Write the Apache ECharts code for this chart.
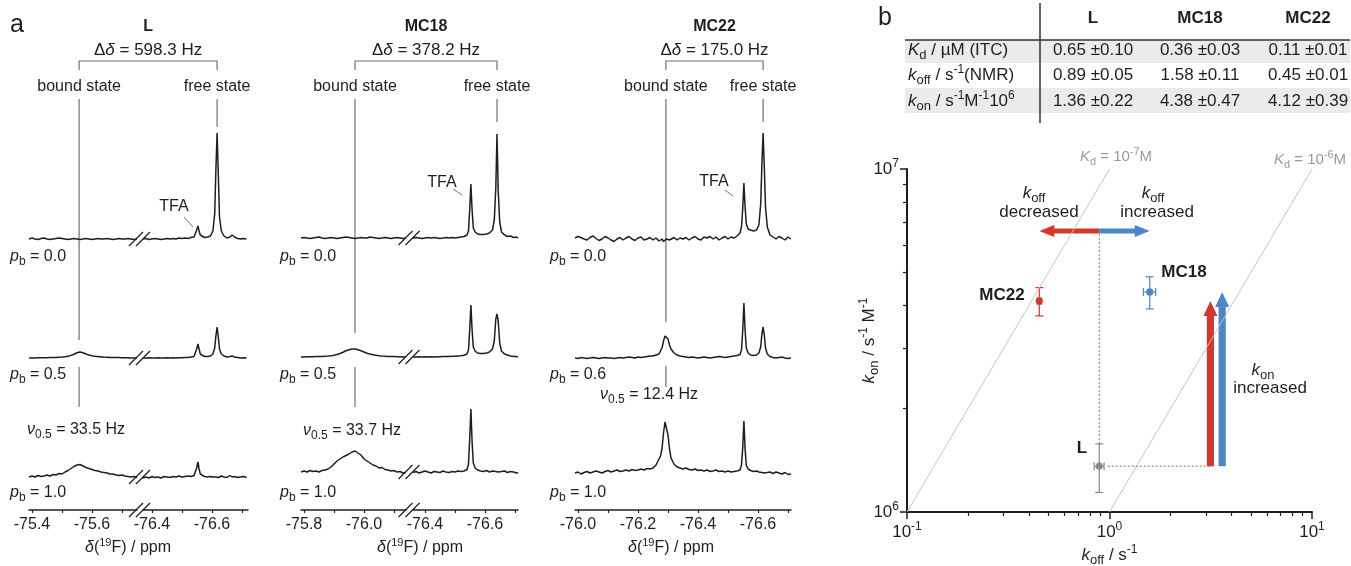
<!DOCTYPE html>
<html>
<head>
<meta charset="utf-8">
<title>19F NMR titration and kinetic map</title>
<script src="https://cdn.jsdelivr.net/npm/echarts@6.0.0/dist/echarts.min.js"></script>
<style>
  html, body { margin: 0; padding: 0; background: #fff; }
  #chart { width: 1351px; height: 566px; }
</style>
</head>
<body>
<div id="chart"></div>
<script>
// ---------- panel a : 19F spectra, intensity (baseline = 0) ----------
var lLeftPpm = [-75.39, -75.40, -75.41, -75.42, -75.43, -75.44, -75.45, -75.46, -75.47, -75.48, -75.49, -75.50, -75.51, -75.52, -75.53, -75.54, -75.55, -75.56, -75.57, -75.58, -75.59, -75.60, -75.61, -75.62, -75.63, -75.64, -75.65, -75.66, -75.67, -75.68, -75.69, -75.70, -75.71, -75.72, -75.73, -75.74, -75.75];
var lLeftP00 = [0, 1, 0, -0.5, 0.5, 1, 0, -0.5, 0, 0.5, 1, 0.5, 0, -0.5, 0, 0.5, 0, -0.5, 0, 0.5, 0, -0.5, 0, 0.5, 0, 0, 0.5, 0, -0.5, 0, 0.5, 0, 0, 0.5, 0, -0.5, 0];
var lLeftP05 = [0, 0, 0, 0.2, 0.2, 0.3, 0.3, 0.4, 0.5, 0.6, 0.8, 1, 1.3, 1.8, 2.6, 3.8, 5.2, 6, 5.3, 4, 2.9, 2.2, 1.7, 1.4, 1.1, 0.9, 0.8, 0.6, 0.5, 0.4, 0.4, 0.3, 0.2, 0.2, 0.1, 0.1, 0];
var lLeftP10 = [0, 1, 0, 1.5, 0.5, 1, 2, 1, 2.5, 2, 3.5, 3, 5, 6.5, 8.5, 10.5, 12, 12.5, 11, 9.5, 8.5, 7.5, 6.5, 6, 5, 4.5, 4, 3, 3, 2, 1.5, 2, 1, 0.5, 0, 0.5, -0.5];

var lRightPpm = [-76.37, -76.38, -76.39, -76.40, -76.41, -76.42, -76.43, -76.44, -76.45, -76.46, -76.47, -76.48, -76.49, -76.50, -76.51, -76.52, -76.53, -76.54, -76.545, -76.549, -76.553, -76.557, -76.561, -76.567, -76.575, -76.585, -76.595, -76.603, -76.609, -76.613, -76.617, -76.621, -76.625, -76.631, -76.64, -76.65, -76.66, -76.667, -76.675, -76.685, -76.695, -76.705, -76.715];
var lRightP00 = [0, 0.5, -0.5, 0, 0.5, 0, -0.5, 0, 0.5, 0, 0.5, 0, 1, 0.5, 1, 0.5, 1.5, 2, 4, 9, 13, 8, 4, 2, 1.5, 2, 3, 8, 25, 70, 106, 65, 22, 8, 3, 1, 2, 4, 2, 0.5, 0, 0.5, 0];
var lRightP05 = [0, 0, 0.3, 0, 0, 0.3, 0, 0, 0.3, 0, 0.3, 0, 0.3, 0.3, 0.5, 0.5, 1, 1.5, 3, 9, 14, 9, 4, 2, 1.5, 1.5, 2, 4, 10, 22, 31, 21, 9, 4, 2, 1, 1.5, 2, 1, 0.5, 0, 0.3, 0];
var lRightP10 = [-1, 0, -1, 0.5, -0.5, 0, -1, 0.5, 0, -0.5, 0.5, 0, 1, 0, 0.5, 1, 0.5, 1.5, 3, 9, 15, 8, 3, 1, 0.5, 0, 0.5, 0, 1, 0, 0.5, -0.5, 0, 1, 0, -0.5, 1.5, 0, 0.5, -0.5, 0, 0.5, -0.5];

var mc18LeftPpm = [-75.79, -75.80, -75.81, -75.82, -75.83, -75.84, -75.85, -75.86, -75.87, -75.88, -75.89, -75.90, -75.91, -75.92, -75.93, -75.94, -75.95, -75.96, -75.97, -75.98, -75.99, -76.00, -76.01, -76.02, -76.03, -76.04, -76.05, -76.06, -76.07, -76.08, -76.09, -76.10, -76.11, -76.12, -76.13, -76.14];
var mc18LeftP00 = [0, 0.5, 0, -0.5, 0, 0.5, 1, 0, -0.5, 0, 0.5, 0, -0.5, 0, 0.5, 1, 0.5, 0, -0.5, 0, 0.5, 0, 0, 1, 0.5, 0, -0.5, 0, 0.5, 0, -0.5, 0, 0.5, 0, -0.5, 0];
var mc18LeftP05 = [0, 0, 0.2, 0.2, 0.3, 0.4, 0.5, 0.6, 0.8, 1, 1.3, 1.8, 2.5, 3.5, 4.8, 6.2, 7.3, 8, 8, 7.3, 6.2, 5, 3.8, 2.9, 2.2, 1.7, 1.3, 1, 0.8, 0.6, 0.5, 0.4, 0.3, 0.2, 0.1, 0];
var mc18LeftP10 = [0, 1, 0, 1.5, 0.5, 1, 0, 1.5, 2, 3, 5, 8, 11, 13, 15, 16.5, 18, 20, 21, 19, 17, 13, 11, 9, 7, 6, 4, 4.5, 2.5, 2, 1, 1.5, 0, 0.5, -1, -0.5];

var mc18RightPpm = [-76.36, -76.37, -76.38, -76.39, -76.40, -76.41, -76.42, -76.43, -76.44, -76.45, -76.46, -76.47, -76.48, -76.49, -76.50, -76.51, -76.52, -76.53, -76.54, -76.545, -76.549, -76.553, -76.557, -76.561, -76.567, -76.575, -76.585, -76.595, -76.605, -76.615, -76.625, -76.631, -76.636, -76.64, -76.644, -76.649, -76.655, -76.665, -76.675, -76.685, -76.695, -76.705, -76.71];
var mc18RightP00 = [0, 0.5, 0, -0.5, 0, 0.5, 0, 0.5, 0, -0.5, 0, 0.5, 0, 0.5, 0, 0.5, 1, 1.5, 3, 7, 28, 54, 28, 10, 6, 4, 3.5, 3.5, 4, 5, 8, 18, 50, 104, 48, 16, 6, 3, 1.5, 2, 0.5, 1, 0];
var mc18RightP05 = [0, 0, 0.3, 0, 0.3, 0, 0.3, 0, 0.3, 0.3, 0.5, 0.5, 0.5, 0.7, 0.8, 1, 1.2, 1.8, 3, 7, 27, 52, 27, 10, 6, 4, 3.5, 3.5, 4, 5, 8, 16, 38, 43, 36, 14, 6, 3, 2, 1, 0.5, 0.5, 0];
var mc18RightP10 = [-0.5, 0.5, -1, 0, 1, 0, -1, 0.5, 0, -0.5, 1, 0, -0.5, 0.5, 0, 1, 0.5, 1, 2.5, 8, 33, 63, 30, 9, 4, 2, 1, 0.5, 1.5, 0, 1, 0, 0.5, 1, 0, -0.5, 0.5, 1, -0.5, 0.5, 0, -1, -0.5];

var mc22Ppm = [-75.99, -76.00, -76.01, -76.02, -76.03, -76.04, -76.05, -76.06, -76.07, -76.08, -76.09, -76.10, -76.11, -76.12, -76.13, -76.14, -76.15, -76.16, -76.17, -76.18, -76.19, -76.20, -76.21, -76.22, -76.23, -76.24, -76.25,
  -76.26, -76.27, -76.275, -76.28, -76.285, -76.29, -76.295, -76.30, -76.305, -76.31, -76.32, -76.33, -76.34,
  -76.35, -76.36, -76.37, -76.38, -76.39, -76.40, -76.41, -76.42, -76.43, -76.44, -76.45, -76.46, -76.47, -76.48, -76.49, -76.50, -76.51, -76.52, -76.53,
  -76.54, -76.545, -76.549, -76.553, -76.557, -76.561, -76.567, -76.575, -76.585, -76.595, -76.603, -76.609, -76.613, -76.617, -76.621, -76.625, -76.631, -76.64,
  -76.65, -76.66, -76.67, -76.68, -76.69, -76.70, -76.71];
var mc22P00 = [1, 2.5, 1.5, 0, -1, 1.5, 3, 0.5, -1.5, 0, 2.5, 1, -1, -2.5, 0, 1.5, -1, 1, 2.5, 0, -1.5, 1, 2, -1, 0, 1.5, -1,
  1, -2, -1, 0, -2.5, -1.5, 0, 1, -1, 0, 1.5, -1, 1,
  0, 1.5, -1, 1, 2.5, 0, -1, 2, 1, 2.5, 0, 2, -1, 1, 2.5, 0, 2, 1, 3,
  6, 12, 30, 56, 32, 15, 10, 9, 8, 9, 14, 35, 75, 106, 72, 32, 12, 4,
  2, 0, 2.5, 1, -1, 2, 0];
var mc22P06 = [0, -0.5, 0.5, 0, -0.5, 0, 0.5, 0, -0.5, 0, 0.5, 0, 0, -0.5, 0, 0.5, 0, 0.5, 1, 0.5, 0, 1, 0.5, 1, 1.5, 2, 2,
  3, 4, 6, 10, 17, 22, 23, 19, 13, 9, 5, 3, 2,
  1.5, 1, 0.5, 1, 0.5, 0, 0.5, 1, 0.5, 0, 0.5, 1, 1.5, 1, 0.5, 1, 1.5, 2, 2.5,
  3.5, 8, 27, 55, 28, 10, 5, 3, 2.5, 3, 5, 11, 24, 31, 23, 10, 4, 1.5,
  0.5, 0, 0.5, 1, 0, -0.5, 0];
var mc22P10 = [0, 1, -1, 0.5, 1.5, 0, 1, 2, 1, 0, 1.5, 2.5, 1, 2, 3, 1.5, 2, 3, 2, 3.5, 2.5, 3, 4, 3, 4.5, 4, 5,
  8, 14, 17, 24, 40, 51, 50, 38, 24, 15, 9, 6, 5,
  4, 5, 3.5, 3, 4, 2.5, 3, 2, 3, 1.5, 2, 3, 1.5, 2, 1, 2, 1, 1.5, 2,
  3, 8, 25, 52, 24, 8, 4, 2.5, 1.5, 2, 1, 2, 0.5, 1, 0, 1.5, 0.5, 1,
  -0.5, 1, 0, -1, 0.5, -1.5, -1];

var complexes = ['L', 'MC18', 'MC22'];
var deltaHz = ['598.3', '378.2', '175.0'];
var nuHalf = ['33.5', '33.7', '12.4'];
var pbL = ['0.0', '0.5', '1.0'];
var pbMC18 = ['0.0', '0.5', '1.0'];
var pbMC22 = ['0.0', '0.6', '1.0'];
var boundPpm = [-75.557, -75.97, -76.293];
var freePpm = [-76.617, -76.64, -76.617];

// ---------- panel b : table + kinetic map ----------
var kdITC = [0.65, 0.36, 0.11];
var kdITCErr = [0.10, 0.03, 0.01];
var koffNMR = [0.89, 1.58, 0.45];
var koffNMRErr = [0.05, 0.11, 0.01];
var konCalc = [1.36, 4.38, 4.12];      // x 10^6
var konCalcErr = [0.22, 0.47, 0.39];   // x 10^6
var kdIsolines = [1e-7, 1e-6];
var koffArrowKon = 6.6e6;
var konArrowKoff = [3.15, 3.6];
var xMinorTicks = [0.2, 0.3, 0.4, 0.5, 0.6, 0.7, 0.8, 0.9, 2, 3, 4, 5, 6, 7, 8, 9];
var yMinorTicks = [2e6, 3e6, 4e6, 5e6, 6e6, 7e6, 8e6, 9e6];

var FONT = '"Liberation Sans", Arial, sans-serif';
var INK = '#1e1e1e';
var GUIDE = '#707070';
var RED = '#d2382c', BLUE = '#4b87c8', GREY = '#8a8a8a';
var pointColors = [GREY, BLUE, RED];

function gRich(size, color) {
  return {
    n: {fontFamily: FONT, fontSize: size, lineHeight: size + 6, fill: color},
    i: {fontFamily: FONT, fontSize: size, lineHeight: size + 6, fontStyle: 'italic', fill: color},
    b: {fontFamily: FONT, fontSize: size, lineHeight: size + 6, fontWeight: 'bold', fill: color},
    sub: {fontFamily: FONT, fontSize: Math.round(size * 0.74), fill: color, verticalAlign: 'bottom'},
    sup: {fontFamily: FONT, fontSize: Math.round(size * 0.7), fill: color, verticalAlign: 'top'}
  };
}
function eRich(size, color) {
  return {
    n: {fontFamily: FONT, fontSize: size, lineHeight: size + 6, color: color},
    i: {fontFamily: FONT, fontSize: size, lineHeight: size + 6, fontStyle: 'italic', color: color},
    sub: {fontFamily: FONT, fontSize: Math.round(size * 0.74), color: color, verticalAlign: 'bottom'},
    sup: {fontFamily: FONT, fontSize: Math.round(size * 0.7), color: color, verticalAlign: 'top'}
  };
}
function txt(x, y, text, rich, align) {
  return {type: 'text', x: x, y: y, silent: true,
    style: {text: text, rich: rich, fontFamily: FONT, fontSize: 16, fill: INK, align: align || 'center', verticalAlign: 'middle'}};
}
function seg(x1, y1, x2, y2, color, w) {
  return {type: 'line', silent: true, shape: {x1: x1, y1: y1, x2: x2, y2: y2}, style: {stroke: color, lineWidth: w}};
}

var panels = [
  {bases: [239, 358, 477], pb: pbL,
   segs: [
     {left: 29, right: 137, min: -75.75, max: -75.39, ticks: [-75.4, -75.5, -75.6, -75.7], labels: [-75.4, -75.6], ppm: lLeftPpm, rows: [lLeftP00, lLeftP05, lLeftP10]},
     {left: 143, right: 248, min: -76.72, max: -76.37, ticks: [-76.4, -76.5, -76.6, -76.7], labels: [-76.4, -76.6], ppm: lRightPpm, rows: [lRightP00, lRightP05, lRightP10]}
   ],
   boundEnd: 340, boundLow: [367, 407], freeEnd: 127, tfa: [174, 207, 184, 217, 193, 227], pbX: 10, nu: [27, 430], nameX: 128},
  {bases: [238, 357, 472], pb: pbMC18,
   segs: [
     {left: 301, right: 406, min: -76.14, max: -75.79, ticks: [-75.8, -75.9, -76.0, -76.1], labels: [-75.8, -76.0], ppm: mc18LeftPpm, rows: [mc18LeftP00, mc18LeftP05, mc18LeftP10]},
     {left: 413, right: 518, min: -76.71, max: -76.36, ticks: [-76.4, -76.5, -76.6, -76.7], labels: [-76.4, -76.6], ppm: mc18RightPpm, rows: [mc18RightP00, mc18RightP05, mc18RightP10]}
   ],
   boundEnd: 333, boundLow: [367, 407], freeEnd: 122, tfa: [442, 183, 453, 189, 462, 195], pbX: 280, nu: [303, 431], nameX: 420},
  {bases: [239, 358, 473], pb: pbMC22,
   segs: [
     {left: 575, right: 791, min: -76.71, max: -75.99, ticks: [-76.0, -76.1, -76.2, -76.3, -76.4, -76.5, -76.6, -76.7], labels: [-76.0, -76.2, -76.4, -76.6], ppm: mc22Ppm, rows: [mc22P00, mc22P06, mc22P10]}
   ],
   boundEnd: 322, boundLow: [366, 387], freeEnd: 122, tfa: [714, 182, 725, 190, 733, 196], pbX: 550, nu: [600, 395], nameX: 671}
];

var AXIS_Y = 510;
var grids = [], xAxes = [], yAxes = [], series = [];

panels.forEach(function (p) {
  p.segs.forEach(function (s) {
    s.axisIdx = [];
    for (var r = 0; r < 3; r++) {
      var base = p.bases[r];
      var top = base - 112;
      var bottom = r === 2 ? AXIS_Y : base + 6;
      var gi = grids.length;
      grids.push({left: s.left, top: top, width: s.right - s.left, height: bottom - top, outerBoundsMode: 'none'});
      xAxes.push({
        gridIndex: gi, type: 'value', inverse: true, min: s.min, max: s.max, show: r === 2,
        axisLine: {show: true, onZero: false, lineStyle: {color: INK, width: 1.5}},
        axisTick: {show: true, customValues: s.ticks, length: 3, lineStyle: {color: INK, width: 1.2}},
        axisLabel: {customValues: s.labels, margin: 7, fontFamily: FONT, fontSize: 16, color: INK,
          formatter: function (v) { return v.toFixed(1); }},
        splitLine: {show: false}
      });
      yAxes.push({gridIndex: gi, type: 'value', show: false, min: base - bottom, max: 112});
      var rowVals = s.rows[r];
      series.push({
        type: 'line', xAxisIndex: gi, yAxisIndex: gi, symbol: 'none', silent: true,
        data: s.ppm.map(function (v, k) { return [v, rowVals[k]]; }),
        lineStyle: {color: INK, width: 1.5}
      });
      s.axisIdx.push(gi);
    }
  });
});

// panel b grid
var gb = grids.length;
grids.push({left: 907, top: 169, width: 405, height: 343, outerBoundsMode: 'none'});
var bx = xAxes.length;
var logLabel = function (v) { return '{n|10}{sup|' + Math.round(Math.log10(v)) + '}'; };
xAxes.push({
  gridIndex: gb, type: 'log', logBase: 10, min: 0.1, max: 10, position: 'bottom',
  axisLine: {show: true, onZero: false, lineStyle: {color: INK, width: 2}},
  axisTick: {show: true, length: 7, lineStyle: {color: INK, width: 1.5}},
  axisLabel: {margin: 9, formatter: logLabel, fontFamily: FONT, fontSize: 17, color: INK, rich: eRich(17, INK)},
  splitLine: {show: false},
  name: '{i|k}{sub|off}{n| / s}{sup|-1}', nameLocation: 'middle', nameGap: 32, nameMoveOverlap: false,
  nameTextStyle: {fontFamily: FONT, fontSize: 17, color: INK, rich: eRich(17, INK)}
}, {
  gridIndex: gb, type: 'log', logBase: 10, min: 0.1, max: 10, position: 'bottom',
  axisLine: {show: false, onZero: false}, axisLabel: {show: false}, splitLine: {show: false},
  axisTick: {show: true, customValues: xMinorTicks, length: 4, lineStyle: {color: INK, width: 1.2}}
});
var by = yAxes.length;
yAxes.push({
  gridIndex: gb, type: 'log', logBase: 10, min: 1e6, max: 1e7, position: 'left',
  axisLine: {show: true, onZero: false, lineStyle: {color: INK, width: 2}},
  axisTick: {show: true, length: 7, lineStyle: {color: INK, width: 1.5}},
  axisLabel: {margin: 8, formatter: logLabel, fontFamily: FONT, fontSize: 17, color: INK, rich: eRich(17, INK)},
  splitLine: {show: false},
  name: '{i|k}{sub|on}{n| / s}{sup|-1}{n| M}{sup|-1}', nameLocation: 'middle', nameRotate: 90, nameGap: 26,
  nameMoveOverlap: false,
  nameTextStyle: {fontFamily: FONT, fontSize: 17, color: INK, rich: eRich(17, INK)}
}, {
  gridIndex: gb, type: 'log', logBase: 10, min: 1e6, max: 1e7, position: 'left',
  axisLine: {show: false, onZero: false}, axisLabel: {show: false}, splitLine: {show: false},
  axisTick: {show: true, customValues: yMinorTicks, length: 4, lineStyle: {color: INK, width: 1.2}}
});

// Kd isolines: kon = koff / Kd
kdIsolines.forEach(function (kd) {
  series.push({type: 'line', xAxisIndex: bx, yAxisIndex: by, symbol: 'none', silent: true,
    data: [[kd * 1e6, 1e6], [kd * 1e7, 1e7]], lineStyle: {color: '#c6c6c6', width: 1}});
});
// dotted guides from L
series.push({type: 'line', xAxisIndex: bx, yAxisIndex: by, symbol: 'none', silent: true,
  data: [[koffNMR[0], (konCalc[0] + konCalcErr[0]) * 1e6], [koffNMR[0], koffArrowKon]],
  lineStyle: {color: '#777', width: 1, type: [2, 2]}});
series.push({type: 'line', xAxisIndex: bx, yAxisIndex: by, symbol: 'none', silent: true,
  data: [[koffNMR[0] + koffNMRErr[0] + 0.04, konCalc[0] * 1e6], [konArrowKoff[0], konCalc[0] * 1e6]],
  lineStyle: {color: '#777', width: 1, type: [2, 2]}});

// arrows
var arrowData = [
  [koffNMR[0], koffArrowKon, koffNMR[2], koffArrowKon],
  [koffNMR[0], koffArrowKon, koffNMR[1], koffArrowKon],
  [konArrowKoff[0], konCalc[0] * 1e6, konArrowKoff[0], konCalc[2] * 1e6],
  [konArrowKoff[1], konCalc[0] * 1e6, konArrowKoff[1], konCalc[1] * 1e6]
];
var arrowLook = [
  {color: RED, half: 2.5, headLen: 15, headHalf: 6},
  {color: BLUE, half: 2.5, headLen: 15, headHalf: 6},
  {color: RED, half: 3.6, headLen: 15, headHalf: 7},
  {color: BLUE, half: 3.6, headLen: 15, headHalf: 7}
];
series.push({
  type: 'custom', xAxisIndex: bx, yAxisIndex: by, silent: true, clip: false, data: arrowData,
  renderItem: function (params, api) {
    var a = api.coord([api.value(0), api.value(1)]);
    var b = api.coord([api.value(2), api.value(3)]);
    var st = arrowLook[params.dataIndex];
    var dx = b[0] - a[0], dy = b[1] - a[1], len = Math.sqrt(dx * dx + dy * dy);
    var ux = dx / len, uy = dy / len, nx = -uy, ny = ux;
    var hx = b[0] - ux * st.headLen, hy = b[1] - uy * st.headLen;
    var pts = [
      [a[0] + nx * st.half, a[1] + ny * st.half],
      [hx + nx * st.half, hy + ny * st.half],
      [hx + nx * st.headHalf, hy + ny * st.headHalf],
      [b[0], b[1]],
      [hx - nx * st.headHalf, hy - ny * st.headHalf],
      [hx - nx * st.half, hy - ny * st.half],
      [a[0] - nx * st.half, a[1] - ny * st.half]
    ];
    return {type: 'polygon', shape: {points: pts}, style: {fill: st.color}};
  }
});

// points with error bars
series.push({
  type: 'custom', xAxisIndex: bx, yAxisIndex: by, silent: true, clip: false,
  data: complexes.map(function (c, i) {
    return [koffNMR[i], konCalc[i] * 1e6, koffNMRErr[i], konCalcErr[i] * 1e6];
  }),
  renderItem: function (params, api) {
    var x = api.value(0), y = api.value(1), ex = api.value(2), ey = api.value(3);
    var c = api.coord([x, y]);
    var l = api.coord([x - ex, y]), r = api.coord([x + ex, y]);
    var t = api.coord([x, y + ey]), b = api.coord([x, y - ey]);
    var col = pointColors[params.dataIndex];
    var st = {stroke: col, lineWidth: 1.2};
    var cap = 4;
    return {type: 'group', children: [
      {type: 'line', shape: {x1: c[0], y1: t[1], x2: c[0], y2: b[1]}, style: st},
      {type: 'line', shape: {x1: c[0] - cap, y1: t[1], x2: c[0] + cap, y2: t[1]}, style: st},
      {type: 'line', shape: {x1: c[0] - cap, y1: b[1], x2: c[0] + cap, y2: b[1]}, style: st},
      {type: 'line', shape: {x1: l[0], y1: c[1], x2: r[0], y2: c[1]}, style: st},
      {type: 'line', shape: {x1: l[0], y1: c[1] - cap, x2: l[0], y2: c[1] + cap}, style: st},
      {type: 'line', shape: {x1: r[0], y1: c[1] - cap, x2: r[0], y2: c[1] + cap}, style: st},
      {type: 'circle', shape: {cx: c[0], cy: c[1], r: 3.6}, style: {fill: col}}
    ]};
  }
});

var chart = echarts.init(document.getElementById('chart'));
chart.setOption({animation: false, grid: grids, xAxis: xAxes, yAxis: yAxes, series: series});

// ---------- annotations ----------
var g = [];
var ra = gRich(16, INK);
var rb = gRich(17, INK);
g.push(txt(17, 25, '{n|a}', gRich(25, INK)));
var pbY = [257, 375, 493];
panels.forEach(function (p, pi) {
  var first = p.segs[0], last = p.segs[p.segs.length - 1];
  var xb = chart.convertToPixel({xAxisIndex: first.axisIdx[0]}, boundPpm[pi]);
  var xf = chart.convertToPixel({xAxisIndex: last.axisIdx[0]}, freePpm[pi]);
  var cx = (xb + xf) / 2;
  g.push(txt(cx, 27, '{b|' + complexes[pi] + '}', ra));
  g.push(txt(cx, 50, '{n|Δ}{i|δ}{n| = ' + deltaHz[pi] + ' Hz}', gRich(17, INK)));
  g.push({type: 'polyline', silent: true, shape: {points: [[xb, 70], [xb, 61], [xf, 61], [xf, 70]]},
    style: {stroke: GUIDE, lineWidth: 1.2, fill: 'none'}});
  g.push(txt(xb, 87, '{n|bound state}', ra));
  g.push(txt(xf, 87, '{n|free state}', ra));
  g.push(seg(xb, 99, xb, p.boundEnd, GUIDE, 1.2));
  g.push(seg(xb, p.boundLow[0], xb, p.boundLow[1], GUIDE, 1.2));
  g.push(seg(xf, 99, xf, p.freeEnd, GUIDE, 1.2));
  g.push(txt(p.tfa[0], p.tfa[1], '{n|TFA}', ra));
  g.push(seg(p.tfa[2], p.tfa[3], p.tfa[4], p.tfa[5], GUIDE, 1));
  for (var r = 0; r < 3; r++) {
    g.push(txt(p.pbX, pbY[r], '{i|p}{sub|b}{n| = ' + p.pb[r] + '}', ra, 'left'));
  }
  g.push(txt(p.nu[0], p.nu[1], '{i|ν}{sub|0.5}{n| = ' + nuHalf[pi] + ' Hz}', ra, 'left'));
  g.push(txt(p.nameX, 548, '{i|δ}{n|(}{sup|19}{n|F) / ppm}', ra));
  if (p.segs.length > 1) {
    var bk = (first.right + last.left) / 2;
    p.bases.concat([AXIS_Y]).forEach(function (y) {
      for (var k = 0; k < 2; k++) g.push(seg(bk - 11 + 7 * k, y + 7, bk + 3 + 7 * k, y - 7, INK, 1.3));
    });
  }
});

// table
g.push(txt(885, 18, '{n|b}', gRich(25, INK)));
g.push({type: 'rect', silent: true, shape: {x: 905, y: 40, width: 445, height: 23}, style: {fill: '#ebebeb'}});
g.push({type: 'rect', silent: true, shape: {x: 905, y: 88, width: 445, height: 25}, style: {fill: '#ebebeb'}});
g.push(seg(905, 40, 1350, 40, '#333', 1.5));
g.push(seg(1040, 3, 1040, 123, '#333', 1.5));
var colX = [1093, 1200, 1308];
complexes.forEach(function (c, i) { g.push(txt(colX[i], 18, '{b|' + c + '}', rb)); });
var rowY = [50, 75, 101];
var rowLabels = ['{i|K}{sub|d}{n| / µM (ITC)}', '{i|k}{sub|off}{n| / s}{sup|-1}{n|(NMR)}',
  '{i|k}{sub|on}{n| / s}{sup|-1}{n|M}{sup|-1}{n|10}{sup|6}'];
var rowVals = [[kdITC, kdITCErr], [koffNMR, koffNMRErr], [konCalc, konCalcErr]];
rowLabels.forEach(function (lab, r) {
  g.push(txt(908, rowY[r], lab, rb, 'left'));
  for (var i = 0; i < 3; i++) {
    g.push(txt(colX[i], rowY[r], '{n|' + rowVals[r][0][i].toFixed(2) + ' ±' + rowVals[r][1][i].toFixed(2) + '}', rb));
  }
});

// map annotations
var rKd = gRich(15, '#999');
g.push(txt(1116, 157, '{i|K}{sub|d}{n| = 10}{sup|-7}{n|M}', rKd));
g.push(txt(1310, 160, '{i|K}{sub|d}{n| = 10}{sup|-6}{n|M}', rKd));
g.push(txt(1034, 193, '{i|k}{sub|off}', rb));
g.push(txt(1039, 212, '{n|decreased}', rb));
g.push(txt(1153, 193, '{i|k}{sub|off}', rb));
g.push(txt(1157, 212, '{n|increased}', rb));
g.push(txt(1263, 370, '{i|k}{sub|on}', rb));
g.push(txt(1270, 388, '{n|increased}', rb));
g.push(txt(1002, 295, '{b|MC22}', rb));
g.push(txt(1184, 272, '{b|MC18}', rb));
g.push(txt(1082, 448, '{b|L}', rb));

chart.setOption({graphic: g});
</script>
</body>
</html>
